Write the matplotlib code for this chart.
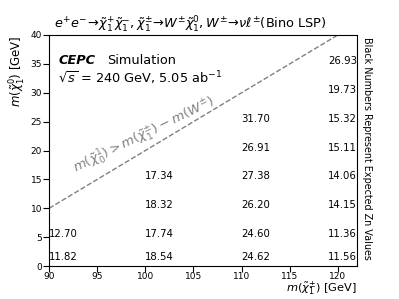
import numpy as np
import matplotlib
matplotlib.use("Agg")
import matplotlib.pyplot as plt

# chargino mass columns and LSP mass points, with the expected Zn values
x_90 = [90, 90]
y_90 = [1, 5]
z_90 = [11.82, 12.70]

x_100 = [100, 100, 100, 100]
y_100 = [1, 5, 10, 15]
z_100 = [18.54, 17.74, 18.32, 17.34]

x_110 = [110, 110, 110, 110, 110, 110]
y_110 = [1, 5, 10, 15, 20, 25]
z_110 = [24.62, 24.60, 26.20, 27.38, 26.91, 31.70]

x_119 = [119, 119, 119, 119, 119, 119, 119, 119]
y_119 = [1, 5, 10, 15, 20, 25, 30, 35]
z_119 = [11.56, 11.36, 14.15, 14.06, 15.11, 15.32, 19.73, 26.93]

m_W = 80

fig = plt.figure(figsize=(3.99, 2.99), dpi=100)
ax = fig.add_axes([0.123, 0.11, 0.772, 0.773])

for xs, ys, zs in [(x_90, y_90, z_90), (x_100, y_100, z_100),
                   (x_110, y_110, z_110), (x_119, y_119, z_119)]:
    for x, y, z in zip(xs, ys, zs):
        ax.text(x, y, f"{z:.2f}", fontsize=7.3)

xx = np.array([90, 122])
ax.plot(xx, xx - m_W, ls="--", color="gray", lw=1)
ax.text(92.8, 16.0, r"$m(\tilde{\chi}_0^1) > m(\tilde{\chi}_1^{\pm}) - m(W^{\pm})$",
        color="gray", fontsize=9.5, rotation=26, rotation_mode="anchor")

ax.set_xlim(90, 122)
ax.set_ylim(0, 40)
ax.tick_params(labelsize=6.5, length=4, pad=1)
ax.tick_params(axis="x", pad=0.5)
ax.set_xlabel(r"$m(\tilde{\chi}_1^{\pm})$ [GeV]", fontsize=8.2, loc="right", labelpad=-0.8)
ax.set_ylabel(r"$m(\tilde{\chi}_1^0)$ [GeV]", fontsize=8.5, loc="top", labelpad=2)
ax.set_title(r"$e^{+}e^{-}\!\to\!\tilde{\chi}_1^{+}\tilde{\chi}_1^{-}, \tilde{\chi}_1^{\pm}\!\to\!W^{\pm}\tilde{\chi}_1^{0}, W^{\pm}\!\to\!\nu\ell^{\pm}$(Bino LSP)",
             fontsize=9.3, pad=2, x=0.46)

ax.text(0.03, 0.888, "CEPC", transform=ax.transAxes, fontsize=9.3,
        fontweight="bold", fontstyle="italic", va="center")
ax.text(0.19, 0.888, "Simulation", transform=ax.transAxes, fontsize=9.3, va="center")
ax.text(0.03, 0.81, r"$\sqrt{s}$ = 240 GeV, 5.05 ab$^{-1}$", transform=ax.transAxes,
        fontsize=9.3, va="center")
ax.text(1.015, 0.51, "Black Numbers Represent Expected Zn Values", transform=ax.transAxes,
        fontsize=6.9, rotation=270, va="center", ha="left")

fig.savefig("out.png", dpi=100)
